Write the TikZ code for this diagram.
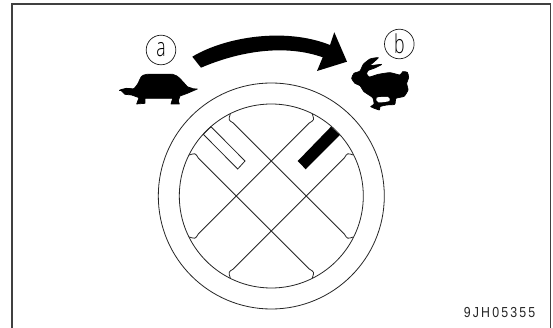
\documentclass[tikz,border=0pt]{standalone}
\usepackage{fontspec}
\newfontfamily\codefont[LetterSpace=15,FakeStretch=.85]{Liberation Sans}
\newfontfamily\letterfont[FakeStretch=.68]{Open Sans Light}
\begin{document}
\begin{tikzpicture}[x=1pt,y=-1pt,
  framedge/.style={draw=black!75,line width=1.5pt},
  thinline/.style={draw=black!85,line width=.8pt},
  silhouette/.style={fill=black,draw=black,line width=.7pt,line join=round},
  lettermark/.style={circle,draw=black!90,line width=.7pt,minimum size=29.6pt,inner sep=0pt,font=\letterfont\fontsize{26}{26}\selectfont},
  codetext/.style={inner sep=0pt,font=\codefont\fontsize{14.5}{14.5}\selectfont,text=black!85}]
\useasboundingbox (0,0) rectangle (553,328);
\fill[white] (0,0) rectangle (553,328);
% frame
\coordinate (fa) at (12,328); \coordinate (fb) at (12,4);
\coordinate (fc) at (550.5,4); \coordinate (fd) at (550.5,328);
\draw[framedge] (fa) -- (fb) -- (fc) -- (fd);
% dial
\begin{scope}[shift={(271.3,196)}]
\coordinate (dial) at (0,0);
\draw[thinline] (dial) circle[radius=113];
\draw[thinline] (dial) circle[radius=92];
\draw[thinline] (41,-82) .. controls (43,-76) .. (38,-73) -- (-73,38) .. controls (-76,43) .. (-82,41);
\draw[thinline] (82,-41) .. controls (76,-43) .. (73,-38) -- (-38,73) .. controls (-43,76) .. (-41,82);
\draw[thinline] (-41,-82) .. controls (-43,-76) .. (-38,-73) -- (73,38) .. controls (76,43) .. (82,41);
\draw[thinline] (-82,-41) .. controls (-76,-43) .. (-73,-38) -- (38,73) .. controls (43,76) .. (41,82);
\draw[thinline] (-68,-61.7) -- (-60.3,-69.3) -- (-26.3,-35) -- (-33.6,-27) -- cycle;
\fill[black] (59.7,-69.3) -- (68.5,-61) -- (34.4,-26.7) -- (26.4,-35) -- cycle;
\end{scope}
% arrow
\fill[black] (192.3,56.7) .. controls (225,37) and (285,27) .. (330,45) -- (334.3,32.3) -- (347,61.7) -- (317,71) -- (322.7,57.3) .. controls (285,44) and (240,51) .. (201,67.7) -- cycle;
% turtle
\begin{scope}[shift={(110,60)},x=.3333pt,y=-.3333pt]
\path[silhouette] plot[smooth cycle,tension=.35] coordinates {(34,92)(50,85)(70,87)(83,72)(94,50)(110,43)(188,43)(208,54)(232,80)(240,87)};
\path[silhouette] (34,92) -- (50,85) -- (70,87) -- (225,85) -- (262,87) -- (232,100) -- (210,108) -- (205,122) -- (208,132) -- (183,132) -- (188,115) -- (105,115) -- (105,130) -- (80,132) -- (87,113) -- (65,105) -- (45,103) -- cycle;
\end{scope}
% rabbit
\begin{scope}[shift={(350,55)},x=.3333pt,y=-.3333pt]
\path[silhouette] plot[smooth cycle,tension=.35] coordinates {(5,70)(12,55)(30,48)(40,28)(60,12)(85,8)(68,24)(60,32)(95,28)(72,40)(55,46)(50,56)(58,66)(85,58)(120,53)(150,60)(158,50)(172,52)(176,68)(170,85)(174,105)(162,124)(138,130)(134,148)(110,150)(90,155)(88,165)(62,155)(72,148)(68,128)(42,110)(30,92)(15,85)};
\fill[white] plot[smooth cycle,tension=.5] coordinates {(80,128)(114,126)(118,138)(85,142)};
\end{scope}
% labels
\node[lettermark] (a) at (161,50) {a};
\node[lettermark] (b) at (399.3,44) {b};
\node[codetext,anchor=east] (code) at (535.5,313) {9JH05355};
\end{tikzpicture}
\end{document}
